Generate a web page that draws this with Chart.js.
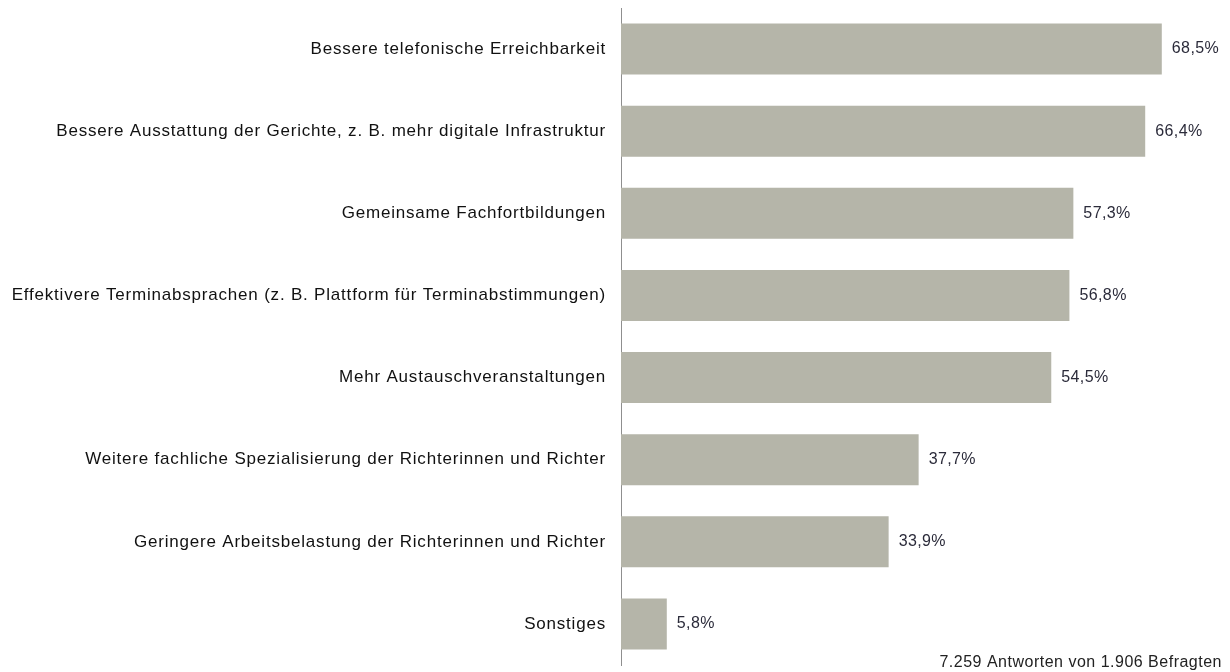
<!DOCTYPE html>
<html>
<head>
<meta charset="utf-8">
<script src="https://cdn.jsdelivr.net/npm/chart.js@4.4.1/dist/chart.umd.min.js"></script>
<style>
html,body{margin:0;padding:0;background:#fff;}
#wrap{width:1230px;height:672px;position:relative;}
</style>
</head>
<body>
<div id="wrap"><canvas id="c"></canvas></div>
<script>
const categories = [
  "Bessere telefonische Erreichbarkeit",
  "Bessere Ausstattung der Gerichte, z. B. mehr digitale Infrastruktur",
  "Gemeinsame Fachfortbildungen",
  "Effektivere Terminabsprachen (z. B. Plattform für Terminabstimmungen)",
  "Mehr Austauschveranstaltungen",
  "Weitere fachliche Spezialisierung der Richterinnen und Richter",
  "Geringere Arbeitsbelastung der Richterinnen und Richter",
  "Sonstiges"
];
const values = [68.5, 66.4, 57.3, 56.8, 54.5, 37.7, 33.9, 5.8];
const footnote = "7.259 Antworten von 1.906 Befragten";

const FONT = "'Liberation Sans', Arial, sans-serif";

const spacingPlugin = {
  id: 'spacing',
  beforeDraw(chart) { chart.ctx.letterSpacing = '0.8px'; }
};

const valueLabels = {
  id: 'valueLabels',
  afterDatasetsDraw(chart) {
    const ctx = chart.ctx;
    const meta = chart.getDatasetMeta(0);
    ctx.save();
    ctx.letterSpacing = '0.4px';
    ctx.font = "16px " + FONT;
    ctx.fillStyle = "#2b2b3a";
    ctx.textAlign = "left";
    ctx.textBaseline = "middle";
    meta.data.forEach((bar, i) => {
      const txt = values[i].toFixed(1).replace('.', ',') + '%';
      ctx.fillText(txt, bar.x + 10, bar.y);
    });
    ctx.restore();
  }
};

const footnotePlugin = {
  id: 'footnote',
  afterDraw(chart) {
    const ctx = chart.ctx;
    ctx.save();
    ctx.letterSpacing = '0.5px';
    ctx.font = "16px " + FONT;
    ctx.fillStyle = "#222";
    ctx.textAlign = "right";
    ctx.textBaseline = "alphabetic";
    ctx.fillText(footnote, 1222, 667);
    ctx.restore();
  }
};

new Chart(document.getElementById('c'), {
  type: 'bar',
  data: {
    labels: categories,
    datasets: [{
      data: values,
      backgroundColor: '#b5b5a9',
      borderWidth: 0,
      barPercentage: 0.62,
      categoryPercentage: 1.0
    }]
  },
  options: {
    indexAxis: 'y',
    responsive: true,
    maintainAspectRatio: false,
    animation: false,
    layout: { padding: { top: 8, bottom: 7, left: 0, right: 9 } },
    plugins: {
      legend: { display: false },
      tooltip: { enabled: false }
    },
    scales: {
      x: {
        display: false,
        min: 0,
        max: 76
      },
      y: {
        grid: { display: false, drawTicks: false },
        border: { display: true, color: '#8f8f8f', width: 1 },
        ticks: {
          color: '#111',
          padding: 15,
          font: { family: FONT, size: 17 }
        },
        afterFit(scale) {
          scale.width = 621;
          scale.paddingTop = 0;
          scale.paddingBottom = 0;
        }
      }
    }
  },
  plugins: [spacingPlugin, valueLabels, footnotePlugin]
});
</script>
</body>
</html>
